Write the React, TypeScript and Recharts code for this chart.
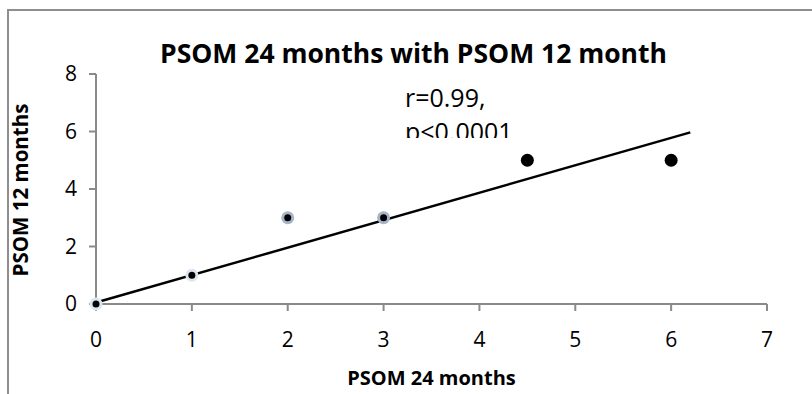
import { ScatterChart, Scatter, XAxis, YAxis, ReferenceLine, Label } from "recharts"

// values
const lightX = [0, 1]
const lightY = [0, 1]
const midX = [2, 3]
const midY = [3, 3]
const darkX = [4.5, 6]
const darkY = [5, 5]
const fitX = [0, 6.2]
const fitY = [0.05, 5.97]
const xTicks = [0, 1, 2, 3, 4, 5, 6, 7]
const yTicks = [0, 2, 4, 6, 8]

const toPoints = (xs: number[], ys: number[]) => xs.map((x, i) => ({ x, y: ys[i] }))

const font = '"Open Sans", sans-serif'
const axisGrey = "#8a8a8a"

const ringDot = (ring: string) => (props: any) => (
  <g>
    <circle cx={props.cx} cy={props.cy} r={6.5} fill={ring} />
    <circle cx={props.cx} cy={props.cy} r={3.5} fill="#000" />
  </g>
)

const darkDot = (props: any) => <circle cx={props.cx} cy={props.cy} r={6.5} fill="#000" />

export default function App() {
  const fit = toPoints(fitX, fitY)
  return (
    <div style={{ position: "absolute", left: 0, top: 0, width: 812, height: 394, overflow: "hidden", background: "#fff", fontFamily: font }}>
      <div style={{ position: "absolute", left: 7, top: 9, width: 900, height: 500, borderLeft: "2px solid #8e8e8e", borderTop: "2px solid #8e8e8e" }} />
      <div style={{ position: "absolute", left: 0, top: 40, width: 827, textAlign: "center", fontSize: 26.5, fontWeight: 700, lineHeight: "1" }}>
        PSOM 24 months with PSOM 12 month
      </div>
      <div style={{ position: "absolute", left: 405, top: 80, width: 140, height: 58, overflow: "hidden", fontSize: 25, lineHeight: "34px" }}>
        <div>r=0.99,</div>
        <div>p&lt;0.0001</div>
      </div>
      <ScatterChart width={812} height={394} margin={{ top: 74, right: 45, bottom: 0, left: 0 }} style={{ position: "absolute", left: 0, top: 0 }}>
        <XAxis
          type="number"
          dataKey="x"
          domain={[0, 7]}
          ticks={xTicks}
          interval={0}
          height={90}
          stroke={axisGrey}
          strokeWidth={2}
          tickSize={7}
          tickMargin={21}
          tick={{ fill: "#000", fontSize: 21, fontFamily: font }}
        >
          <Label value="PSOM 24 months" position="insideBottom" offset={9} style={{ fill: "#000", fontSize: 20, fontWeight: 700, fontFamily: font }} />
        </XAxis>
        <YAxis
          type="number"
          dataKey="y"
          domain={[0, 8]}
          ticks={yTicks}
          interval={0}
          width={96}
          stroke={axisGrey}
          strokeWidth={2}
          tickSize={7}
          tickMargin={12}
          tick={{ fill: "#000", fontSize: 21, fontFamily: font }}
        >
          <Label
            content={({ viewBox }: any) => {
              const cx = 20
              const cy = viewBox.y + viewBox.height / 2 + 1
              return (
                <text x={cx} y={cy} transform={`rotate(-90 ${cx} ${cy})`} textAnchor="middle" dominantBaseline="central" fill="#000" fontSize={20.5} fontWeight={700} fontFamily={font}>
                  PSOM 12 months
                </text>
              )
            }}
          />
        </YAxis>
        <ReferenceLine segment={fit} stroke="#000" strokeWidth={2.5} />
        <Scatter data={toPoints(lightX, lightY)} shape={ringDot("#dce5f2")} isAnimationActive={false} />
        <Scatter data={toPoints(midX, midY)} shape={ringDot("#a7b3c9")} isAnimationActive={false} />
        <Scatter data={toPoints(darkX, darkY)} shape={darkDot} isAnimationActive={false} />
      </ScatterChart>
    </div>
  )
}
